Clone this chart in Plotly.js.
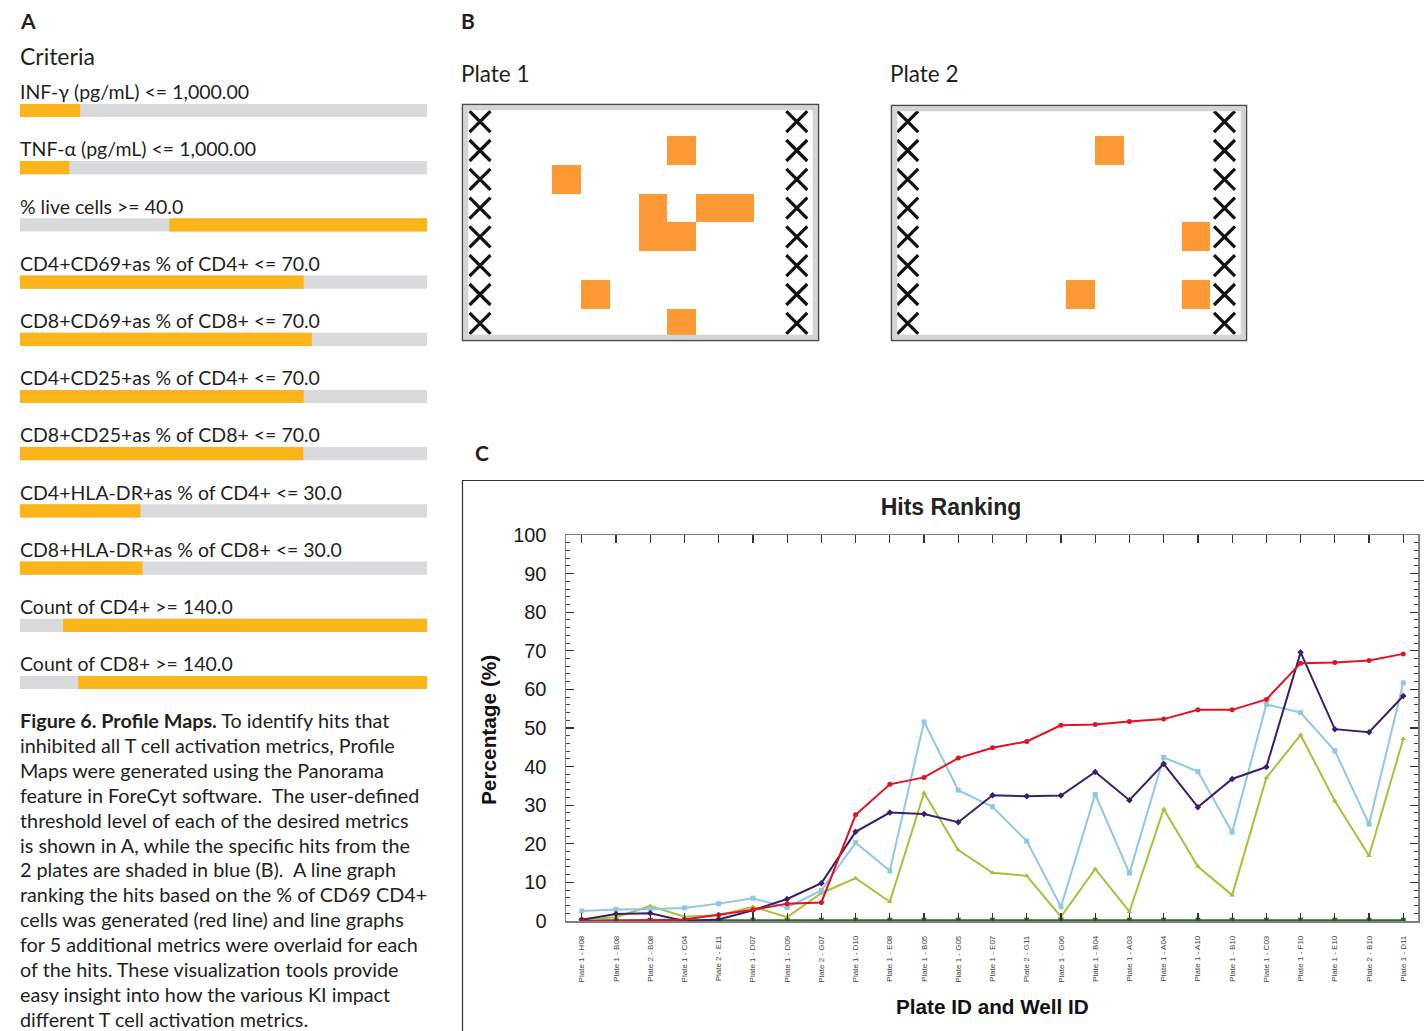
<!DOCTYPE html>
<html><head><meta charset="utf-8">
<script src="https://cdn.plot.ly/plotly-3.0.1.min.js"></script>
<style>html,body{margin:0;padding:0;background:#fff;}#c{width:1424px;height:1031px;}</style>
</head><body><div id="c"></div>
<script>
// ---------- DATA ----------
const criteriaLabels = [
  "INF-\u03b3 (pg/mL) <= 1,000.00",
  "TNF-\u03b1 (pg/mL) <= 1,000.00",
  "% live cells >= 40.0",
  "CD4+CD69+as % of CD4+ <= 70.0",
  "CD8+CD69+as % of CD8+ <= 70.0",
  "CD4+CD25+as % of CD4+ <= 70.0",
  "CD8+CD25+as % of CD8+ <= 70.0",
  "CD4+HLA-DR+as % of CD4+ <= 30.0",
  "CD8+HLA-DR+as % of CD8+ <= 30.0",
  "Count of CD4+ >= 140.0",
  "Count of CD8+ >= 140.0"
];
const criteriaLow  = [0, 0, 36.7, 0, 0, 0, 0, 0, 0, 10.6, 14.3];
const criteriaHigh = [14.8, 12.1, 100, 69.7, 71.7, 69.7, 69.6, 29.6, 30.1, 100, 100];

const rowLetters = ["A","B","C","D","E","F","G","H"];
const plate1HitRows = ["B","C","D","E","E","D","D","G","H"];
const plate1HitCols = [8, 4, 7, 7, 8, 9, 10, 5, 8];
const plate2HitRows = ["B","E","G","G"];
const plate2HitCols = [8, 11, 7, 11];
const blankCols = [1, 12];

const wells = ["Plate 1 - H08","Plate 1 - B08","Plate 2 - B08","Plate 1 - C04","Plate 2 - E11",
  "Plate 1 - D07","Plate 1 - D09","Plate 2 - G07","Plate 1 - D10","Plate 1 - E08","Plate 1 - B05",
  "Plate 1 - G05","Plate 1 - E07","Plate 2 - G11","Plate 1 - G06","Plate 1 - B04","Plate 1 - A03",
  "Plate 1 - A04","Plate 1 - A10","Plate 1 - B10","Plate 1 - C03","Plate 1 - F10","Plate 1 - E10",
  "Plate 2 - B10","Plate 1 - D11"];
const redSeries    = [0.0,0.0,0.2,0.4,1.6,2.9,4.5,4.8,27.5,35.4,37.2,42.2,44.9,46.5,50.7,50.9,51.7,52.3,54.7,54.7,57.4,66.8,67.0,67.5,69.2];
const purpleSeries = [0.3,1.8,2.0,0.0,0.4,2.8,5.7,9.8,23.1,28.1,27.7,25.6,32.6,32.3,32.5,38.6,31.3,40.7,29.5,36.8,39.9,69.6,49.7,48.9,58.3];
const blueSeries   = [2.6,3.0,3.1,3.4,4.5,5.9,3.5,7.9,20.3,13.0,51.6,33.9,29.6,20.7,3.7,32.8,12.4,42.4,38.7,23.0,56.1,54.0,44.1,25.1,61.7];
const limeSeries   = [0.3,1.0,3.9,1.1,1.5,3.7,1.0,7.2,11.1,5.0,33.2,18.4,12.5,11.7,1.1,13.5,2.4,29.0,14.1,6.7,37.1,48.2,31.1,16.9,47.2];
const greenSeries  = [0.2,0.2,0.2,0.2,0.2,0.2,0.2,0.2,0.2,0.2,0.2,0.2,0.2,0.2,0.2,0.2,0.2,0.2,0.2,0.2,0.2,0.2,0.2,0.2,0.2];

const captionLines = [
  "<b>Figure 6. Profile Maps.</b> To identify hits that",
  "inhibited all T cell activation metrics, Profile",
  "Maps were generated using the Panorama",
  "feature in ForeCyt software.  The user-defined",
  "threshold level of each of the desired metrics",
  "is shown in A, while the specific hits from the",
  "2 plates are shaded in blue (B).  A line graph",
  "ranking the hits based on the % of CD69 CD4+",
  "cells was generated (red line) and line graphs",
  "for 5 additional metrics were overlaid for each",
  "of the hits. These visualization tools provide",
  "easy insight into how the various KI impact",
  "different T cell activation metrics."
];

// ---------- LAYOUT HELPERS ----------
const W = 1424, H = 1031;
const fx = p => p / W;
const fy = p => 1 - p / H;
const TXT = "Lato, 'Open Sans', sans-serif";
const ARIAL = "Arial, 'Liberation Sans', sans-serif";
const ORANGE_BAR = "#fbb51b", GRAY_BAR = "#d9dadb", ORANGE_WELL = "#fd9a35";

const traces = [];
const idx = criteriaLabels.map((_, i) => i);
traces.push({type:"bar", orientation:"h", xaxis:"x", yaxis:"y", y: idx, x: idx.map(() => 100), base: idx.map(() => 0),
  width: 0.23, marker:{color: GRAY_BAR, line:{width:0}}, hoverinfo:"skip", showlegend:false});
traces.push({type:"bar", orientation:"h", xaxis:"x", yaxis:"y", y: idx, x: idx.map(i => criteriaHigh[i] - criteriaLow[i]), base: criteriaLow,
  width: 0.23, marker:{color: ORANGE_BAR, line:{width:0}}, hoverinfo:"skip", showlegend:false});

function plateZ(rows, cols) {
  const z = rowLetters.map(() => new Array(12).fill(null));
  rows.forEach((r, k) => { z[rowLetters.indexOf(r)][cols[k] - 1] = 1; });
  return z;
}
const colNums = [1,2,3,4,5,6,7,8,9,10,11,12];
const rowNums = [1,2,3,4,5,6,7,8];
[[plate1HitRows, plate1HitCols, "x2", "y2"], [plate2HitRows, plate2HitCols, "x3", "y3"]].forEach(([r, c, xa, ya]) => {
  traces.push({type:"heatmap", xaxis:xa, yaxis:ya, x: colNums, y: rowNums, z: plateZ(r, c),
    colorscale:[[0, ORANGE_WELL],[1, ORANGE_WELL]], showscale:false, hoverinfo:"skip"});
  const xs = [], ys = [];
  blankCols.forEach(bc => rowNums.forEach(rn => { xs.push(bc); ys.push(rn); }));
  traces.push({type:"scatter", mode:"markers", xaxis:xa, yaxis:ya, x: xs, y: ys,
    marker:{symbol:"x-thin-open", size:21, color:"#111", line:{width:3.2, color:"#111"}}, hoverinfo:"skip", showlegend:false});
});

const lineDefs = [
  [greenSeries, "#2f6b2a", "square"],
  [limeSeries, "#a6c23c", "triangle-up"],
  [blueSeries, "#8fc7e5", "square"],
  [purpleSeries, "#3b1f6c", "diamond"],
  [redSeries, "#e3121f", "circle"]
];
lineDefs.forEach(([ys, col, sym]) => {
  traces.push({type:"scatter", mode:"lines+markers", xaxis:"x4", yaxis:"y4", x: wells, y: ys,
    line:{color: col, width: 2}, marker:{color: col, size: 5, symbol: sym}, hoverinfo:"skip", showlegend:false});
});

// ---------- ANNOTATIONS ----------
const ann = [];
const addText = (text, xpx, ypx, size, opts = {}) => ann.push(Object.assign({
  text, xref:"paper", yref:"paper", x: fx(xpx), y: fy(ypx), xanchor:"left", yanchor:"middle",
  showarrow:false, font:{family: TXT, size, color:"#231f20"}}, opts));

addText("<b>A</b>", 18, 20, 21);
addText("<b>B</b>", 459, 20, 21);
addText("<b>C</b>", 473, 452, 21);
addText("Criteria", 18, 56, 23);
addText("Plate 1", 459, 74, 22.5);
addText("Plate 2", 888, 74, 22.5);
criteriaLabels.forEach((t, i) => ann.push({text: t, xref:"x", yref:"y", x: 0, xshift: -2, y: i - 0.33, xanchor:"left", yanchor:"middle",
  showarrow:false, font:{family: TXT, size: 19.5, color:"#231f20"}}));
captionLines.forEach((t, i) => addText(t, 18, 720 + i * 24.9, 19.8));

ann.push({text:"<b>Percentage (%)</b>", xref:"paper", yref:"paper", x: fx(488), y: fy(730), xanchor:"center", yanchor:"middle",
  textangle:-90, showarrow:false, font:{family: ARIAL, size:20.8, color:"#111"}});
ann.push({text:"<b>Plate ID and Well ID</b>", xref:"paper", yref:"paper", x: fx(992), y: fy(1006), xanchor:"center", yanchor:"middle",
  showarrow:false, font:{family: ARIAL, size:20.7, color:"#111"}});

// ---------- SHAPES (frames) ----------
const rectPx = (x0, y0, x1, y1, line) => ({type:"rect", xref:"paper", yref:"paper",
  x0: fx(x0), x1: fx(x1), y0: fy(y1), y1: fy(y0), line, fillcolor:"rgba(0,0,0,0)", layer:"above"});
const shapes = [
  rectPx(466, 108, 815, 337, {color:"#d4d4d4", width:4.5}),
  rectPx(462.5, 104.5, 818.5, 340.5, {color:"#4a4a4a", width:1.5}),
  rectPx(895, 109, 1243, 337, {color:"#d4d4d4", width:4.5}),
  rectPx(891.5, 105.5, 1246.5, 340.5, {color:"#4a4a4a", width:1.5}),
  rectPx(462.5, 480.5, 1440, 1050, {color:"#333", width:1.2})
];

const hidden = {visible:false, fixedrange:true};
const layout = {
  width: W, height: H, autosize:false,
  margin:{l:0, r:0, t:0, b:0, pad:0},
  paper_bgcolor:"#fff", plot_bgcolor:"rgba(0,0,0,0)",
  showlegend:false, barmode:"overlay",
  title:{text:"<b>Hits Ranking</b>", x: fx(951), y: fy(507), xanchor:"center", yanchor:"middle", xref:"paper", yref:"paper",
    font:{family: ARIAL, size:23, color:"#222"}},
  xaxis: Object.assign({domain:[fx(20), fx(427)], range:[0,100], anchor:"y"}, hidden),
  yaxis: Object.assign({domain:[fy(711.1), fy(81.9)], range:[10.5,-0.5], anchor:"x"}, hidden),
  xaxis2: Object.assign({domain:[fx(465.6), fx(811.2)], range:[0.5,12.5], anchor:"y2"}, hidden),
  yaxis2: Object.assign({domain:[fy(337.7), fy(107.3)], range:[8.5,0.5], anchor:"x2"}, hidden),
  xaxis3: Object.assign({domain:[fx(893.3), fx(1238.9)], range:[0.5,12.5], anchor:"y3"}, hidden),
  yaxis3: Object.assign({domain:[fy(337.7), fy(107.3)], range:[8.5,0.5], anchor:"x3"}, hidden),
  xaxis4: {domain:[fx(566), fx(1418)], anchor:"y4", type:"category", range:[-0.46, 24.43],
    showline:true, linecolor:"#808080", linewidth:1.5, mirror:"allticks",
    ticks:"inside", ticklen:8, tickcolor:"#333", tickwidth:1.2, showgrid:false, zeroline:false,
    tickangle:-90, ticklabelstandoff:10, tickfont:{family: ARIAL, size:8, color:"#444"}, fixedrange:true},
  yaxis4: {domain:[fy(921), fy(535)], anchor:"x4", range:[0,100], dtick:10, tick0:0,
    showline:true, linecolor:"#808080", linewidth:1.5, mirror:"allticks",
    ticks:"inside", ticklen:8, tickcolor:"#333", tickwidth:1.2, showgrid:false, zeroline:false,
    minor:{dtick:2, ticks:"inside", ticklen:4, tickcolor:"#444", tickwidth:1, showgrid:false},
    ticklabelstandoff:14, tickfont:{family: ARIAL, size:20, color:"#1a1a1a"}, fixedrange:true},
  annotations: ann,
  shapes: shapes
};
Plotly.newPlot("c", traces, layout, {staticPlot:true, displayModeBar:false});
</script></body></html>
